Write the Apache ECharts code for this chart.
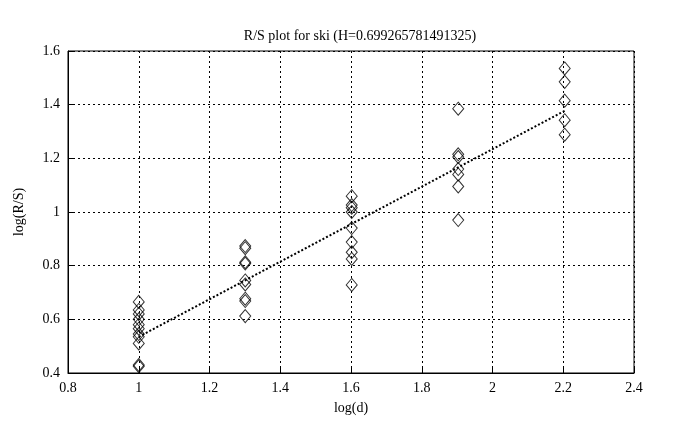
<!DOCTYPE html>
<html>
<head>
<meta charset="utf-8">
<script src="https://cdn.jsdelivr.net/npm/echarts@6/dist/echarts.min.js"></script>
<style>html,body{margin:0;padding:0;background:#fff;}#c{width:686px;height:430px;}</style>
</head>
<body>
<div id="c"></div>
<script>
var titleText = 'R/S plot for ski (H=0.699265781491325)';
var xName = 'log(d)';
var yName = 'log(R/S)';
var xTicks = [0.8, 1, 1.2, 1.4, 1.6, 1.8, 2, 2.2, 2.4];
var yTicks = [0.4, 0.6, 0.8, 1, 1.2, 1.4, 1.6];
var logD = [1, 1.30103, 1.60206, 1.90309, 2.20412];
var rsAt1 = [0.665, 0.635, 0.62, 0.60, 0.58, 0.565, 0.545, 0.535, 0.51, 0.43, 0.425];
var rsAt13 = [0.873, 0.865, 0.813, 0.808, 0.745, 0.73, 0.677, 0.668, 0.612];
var rsAt16 = [1.059, 1.026, 1.016, 1.0, 0.94, 0.888, 0.85, 0.825, 0.728];
var rsAt19 = [1.385, 1.215, 1.205, 1.16, 1.14, 1.095, 0.97];
var rsAt22 = [1.535, 1.485, 1.415, 1.342, 1.288];
var fitX = [1, 2.20412];
var fitY = [0.535, 1.377];

var groups = [rsAt1, rsAt13, rsAt16, rsAt19, rsAt22];
var pts = [];
groups.forEach(function (g, i) { g.forEach(function (v) { pts.push([logD[i], v]); }); });
var fitData = fitX.map(function (x, i) { return [x, fitY[i]]; });

var font = 'Liberation Serif';
var chart = echarts.init(document.getElementById('c'));
chart.setOption({
  animation: false,
  backgroundColor: '#fff',
  title: {
    text: titleText, left: 355, top: 24, textAlign: 'center',
    textStyle: { fontFamily: font, fontSize: 14, fontWeight: 'normal', color: '#000' }
  },
  grid: { left: 68, right: 52, top: 51, bottom: 57, show: true, borderColor: '#000', borderWidth: 1, backgroundColor: 'transparent' },
  xAxis: {
    type: 'value', min: xTicks[0], max: xTicks[xTicks.length - 1], interval: 0.2,
    name: xName, nameLocation: 'middle', nameGap: 28,
    nameTextStyle: { fontFamily: font, fontSize: 14, color: '#000' },
    axisLine: { show: true, lineStyle: { color: '#000' } },
    axisTick: { show: true, inside: true, length: 5, lineStyle: { color: '#000' } },
    axisLabel: { fontFamily: font, fontSize: 14, color: '#000', margin: 8,
      formatter: function (v) { return String(Math.round(v * 10) / 10); } },
    splitLine: { show: true, lineStyle: { color: '#000', type: [2, 3], width: 1 } }
  },
  yAxis: {
    type: 'value', min: yTicks[0], max: yTicks[yTicks.length - 1], interval: 0.2,
    name: yName, nameLocation: 'middle', nameGap: 42, nameRotate: 90,
    nameTextStyle: { fontFamily: font, fontSize: 14, color: '#000' },
    axisLine: { show: true, lineStyle: { color: '#000' } },
    axisTick: { show: true, inside: true, length: 5, lineStyle: { color: '#000' } },
    axisLabel: { fontFamily: font, fontSize: 14, color: '#000', margin: 8,
      formatter: function (v) { return String(Math.round(v * 10) / 10); } },
    splitLine: { show: true, lineStyle: { color: '#000', type: [2, 3], width: 1 } }
  },
  series: [
    {
      type: 'scatter', data: pts, symbol: 'diamond', symbolSize: [11, 13],
      itemStyle: { color: 'rgba(0,0,0,0)', borderColor: '#000', borderWidth: 1 },
      z: 3
    },
    {
      type: 'line', data: fitData, symbol: 'none',
      lineStyle: { color: '#000', width: 2, type: [2, 2] }, z: 4
    }
  ]
});
</script>
</body>
</html>
